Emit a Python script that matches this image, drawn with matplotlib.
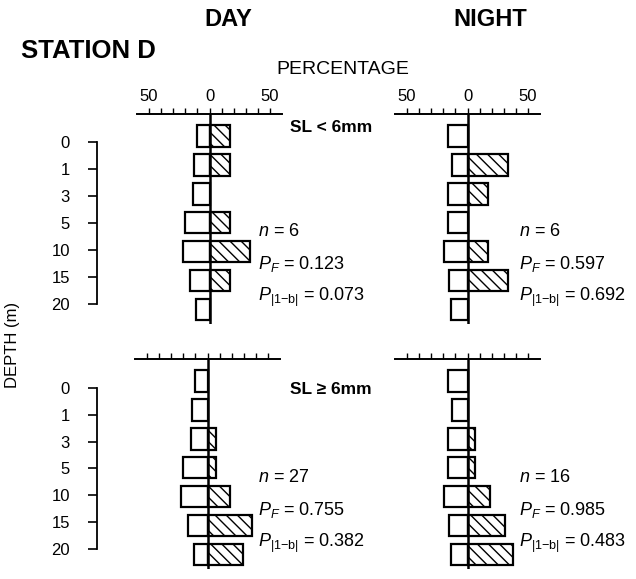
import numpy as np
import matplotlib.pyplot as plt

plt.rcParams['font.family'] = ['Liberation Sans', 'DejaVu Sans']
plt.rcParams['mathtext.fontset'] = 'custom'
plt.rcParams['mathtext.rm'] = 'Liberation Sans'
plt.rcParams['mathtext.it'] = 'Liberation Sans:italic'
plt.rcParams['mathtext.bf'] = 'Liberation Sans:bold'
plt.rcParams['hatch.linewidth'] = 1.0

depths = ['0', '1', '3', '5', '10', '15', '20']

# open bars, drawn to the left of zero
day_open = [10.5, 13, 14, 20, 22, 16, 11]
night_open = [16, 12.5, 16, 16, 19.5, 15.5, 13.5]

# hatched bars, drawn to the right of zero
day_small = [16.7, 16.7, 0, 16.7, 33.3, 16.7, 0]
night_small = [0, 33.3, 16.7, 0, 16.7, 33.3, 0]
day_large = [0, 0, 7.4, 7.4, 18.5, 37.0, 29.6]
night_large = [0, 0, 6.25, 6.25, 18.75, 31.25, 37.5]

n_vals = ['6', '6', '27', '16']
pf_vals = ['0.123', '0.597', '0.755', '0.985']
pb_vals = ['0.073', '0.692', '0.382', '0.483']

W, H = 636, 579
fig = plt.figure(figsize=(W / 100, H / 100), dpi=100)


def px(x, y):
    return x / W, 1 - y / H


def panel(left, top, opn, hat, labels):
    ax = fig.add_axes([left / W, 1 - (top + 210) / H, 145 / W, 210 / H])
    y = np.arange(len(depths))
    ax.barh(y, -np.array(opn), height=0.74, color='white',
            edgecolor='black', linewidth=1.6)
    hat = np.array(hat)
    keep = hat > 0
    ax.barh(y[keep], hat[keep], height=0.74, color='white',
            edgecolor='black', linewidth=1.6, hatch='\\\\\\')
    ax.axvline(0, color='black', lw=1.8)
    ax.set_xlim(-60, 60)
    ax.set_ylim(6.5, -0.76)
    ax.xaxis.tick_top()
    ax.set_xticks(range(-50, 51, 10))
    if labels:
        ax.set_xticklabels(['50', '', '', '', '', '0', '', '', '', '', '50'])
    else:
        ax.set_xticklabels([''] * 11)
    ax.tick_params(axis='x', direction='out', length=4, width=1,
                   labelsize=12, pad=3)
    ax.set_yticks([])
    for s in ['left', 'right', 'bottom']:
        ax.spines[s].set_visible(False)
    ax.spines['top'].set_linewidth(1.4)
    ax.patch.set_visible(False)
    return ax


panel(137, 114, day_open, day_small, True)
panel(395, 114, night_open, night_small, True)
panel(135, 359, day_open, day_large, False)
panel(395, 359, night_open, night_large, False)

# depth scale brackets (own spacing, slightly tighter than the bars)
for top, first, step in [(114, 142, 27.0), (359, 388, 26.8)]:
    dax = fig.add_axes([97 / W, 1 - (top + 210) / H, 0.01, 210 / H])
    y0 = -(first - top) / step
    dax.set_ylim(y0 + 210 / step, y0)
    dax.set_yticks(range(len(depths)))
    dax.set_yticklabels(depths)
    dax.set_xticks([])
    dax.tick_params(axis='y', direction='out', length=6.5, width=1.2,
                    labelsize=12, pad=13)
    for s in ['top', 'right', 'bottom']:
        dax.spines[s].set_visible(False)
    dax.spines['left'].set_bounds(0, 6)
    dax.spines['left'].set_linewidth(1.3)
    dax.patch.set_visible(False)

fig.text(*px(228, 20), 'DAY', fontsize=17, fontweight='bold', ha='center', va='center')
fig.text(*px(490, 20), 'NIGHT', fontsize=17, fontweight='bold', ha='center', va='center')
fig.text(*px(21, 51), 'STATION D', fontsize=18.5, fontweight='bold', ha='left', va='center')
fig.text(*px(343, 69), 'PERCENTAGE', fontsize=14, ha='center', va='center')
fig.text(*px(13, 345), 'DEPTH (m)', fontsize=12, rotation=90, ha='center', va='center')

fig.text(*px(290, 127), 'SL < 6mm', fontsize=12.5, fontweight='bold', ha='left', va='center')
fig.text(*px(290, 390), 'SL ≥ 6mm', fontsize=12.5, fontweight='bold', ha='left', va='center')

stat_pos = [(258, 232), (519, 232), (258, 478), (519, 478)]
for (sx, sy), n, pf, pb in zip(stat_pos, n_vals, pf_vals, pb_vals):
    fig.text(*px(sx, sy), r'$\mathit{n}$ = ' + n, fontsize=13, ha='left', va='center')
    fig.text(*px(sx, sy + 32), r'$P_F$ = ' + pf, fontsize=13, ha='left', va='center')
    fig.text(*px(sx, sy + 65), r'$P_{|1\mathrm{-b}|}$ = ' + pb, fontsize=13, ha='left', va='center')

fig.savefig('out.png', dpi=100)
